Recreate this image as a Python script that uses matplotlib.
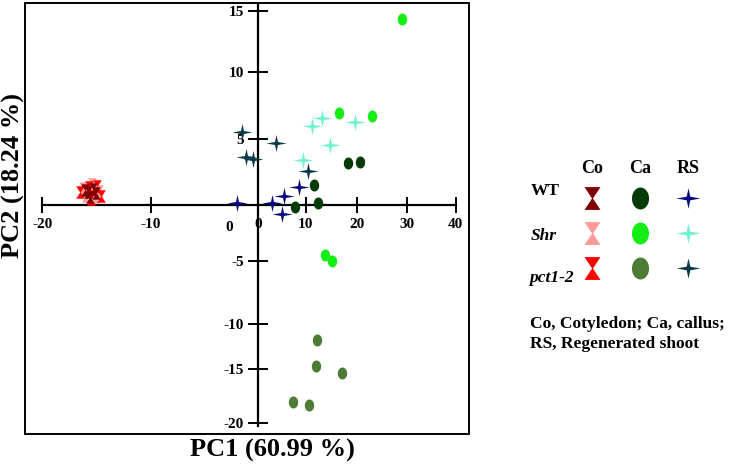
#!/usr/bin/env python3
"""
PCA score plot - PC1 vs PC2 (Co / Ca / RS x WT / Shr / pct1-2)
"""

import numpy as np
import matplotlib.pyplot as plt
from matplotlib.patches import Rectangle

plt.rcParams['font.family'] = ['Liberation Serif', 'DejaVu Serif']
plt.rcParams['font.weight'] = 'bold'

# ---- data (PC1, PC2) ----
wt_co_pc1 = [-15.80, -15.34, -15.61, -15.06, -16.07]
wt_co_pc2 = [0.98, 1.21, 0.61, 0.91, 1.14]
shr_co_pc1 = [-16.26, -15.43, -14.78, -15.98, -15.15]
shr_co_pc2 = [1.29, 1.59, 1.06, 0.68, 0.61]
pct_co_pc1 = [-16.53, -15.70, -14.97, -15.52, -14.60]
pct_co_pc2 = [0.98, 1.36, 1.44, 0.45, 0.68]

wt_ca_pc1 = [18.26, 20.54, 11.67, 7.76, 12.33]
wt_ca_pc2 = [3.20, 3.23, 1.52, -0.21, 0.13]
shr_ca_pc1 = [16.45, 22.9, 29.0, 13.74, 15.16]
shr_ca_pc2 = [6.92, 6.74, 14.34, -4.53, -5.06]
pct_ca_pc1 = [12.25, 12.05, 16.98, 7.40, 10.58]
pct_ca_pc2 = [-11.78, -14.67, -15.34, -18.08, -18.31]

wt_rs_pc1 = [-1.96, 2.94, 5.45, 5.03, 8.70]
wt_rs_pc2 = [0.13, 0.13, 0.68, -0.80, 1.39]
shr_rs_pc1 = [13.1, 11.16, 19.55, 14.7, 9.50]
shr_rs_pc2 = [6.54, 5.97, 6.29, 4.55, 3.41]
pct_rs_pc1 = [-1.52, 3.77, -1.12, -0.47, 10.5]
pct_rs_pc2 = [5.54, 4.66, 3.66, 3.46, 2.61]

tissues = ['Co', 'Ca', 'RS']
genotypes = ['WT', 'Shr', 'pct1-2']

x_ticks = [-20, -10, 0, 10, 20, 30, 40]
y_ticks = [-20, -15, -10, -5, 5, 10, 15]

# ---- axis geometry (uneven scales of the original figure, in pixels) ----
X_KNOT_VALS = [-20, -10, 0, 10, 20, 30, 40]
X_KNOT_PX = [42.3, 151, 258, 305.7, 357.3, 407.3, 455.7]
Y_KNOT_VALS = [-20, -15, -10, -5, 0, 5, 10, 15]
Y_KNOT_PX = [423, 369, 324.3, 260.7, 205, 139, 71.7, 10.7]

W, H = 736, 467


def make_scale(vals, px, sign):
    """区分線形スケール (forward, inverse)"""
    lo = (px[1] - px[0]) / (vals[1] - vals[0])
    hi = (px[-1] - px[-2]) / (vals[-1] - vals[-2])
    ev = [vals[0] - 100] + list(vals) + [vals[-1] + 100]
    ep = [px[0] - 100 * lo] + list(px) + [px[-1] + 100 * hi]
    ep = [sign * p for p in ep]

    def fwd(v):
        return np.interp(v, ev, ep)

    def inv(p):
        return np.interp(p, ep, ev)
    return fwd, inv


def px_rect(l, t, r, b):
    return [l / W, 1 - b / H, (r - l) / W, (b - t) / H]


# マーカー形状
HOURGLASS = [(-0.7, 1), (0.7, 1), (0.04, 0), (0.7, -1), (-0.7, -1), (-0.04, 0)]
_t = np.linspace(0, 2 * np.pi, 40)
ELLIPSE = list(zip(0.78 * np.cos(_t), np.sin(_t)))
STAR = [(0, 0.85), (0.15, 0.15), (1, 0), (0.15, -0.15),
        (0, -0.85), (-0.15, -0.15), (-1, 0), (-0.15, 0.15)]

colors = {
    ('WT', 'Co'): '#800000', ('Shr', 'Co'): '#ff9a9a', ('pct1-2', 'Co'): '#ff0000',
    ('WT', 'Ca'): '#063a06', ('Shr', 'Ca'): '#15ee15', ('pct1-2', 'Ca'): '#4d7c35',
    ('WT', 'RS'): '#0a0a80', ('Shr', 'RS'): '#6ff2cf', ('pct1-2', 'RS'): '#0a3a4a',
}
markers = {'Co': HOURGLASS, 'Ca': ELLIPSE, 'RS': STAR}
sizes = {'Co': 80, 'Ca': 75, 'RS': 210}
legend_sizes = {'Co': 270, 'Ca': 250, 'RS': 300}

groups = [
    ('Shr', 'Co', shr_co_pc1, shr_co_pc2),
    ('pct1-2', 'Co', pct_co_pc1, pct_co_pc2),
    ('WT', 'Co', wt_co_pc1, wt_co_pc2),
    ('WT', 'Ca', wt_ca_pc1, wt_ca_pc2),
    ('Shr', 'Ca', shr_ca_pc1, shr_ca_pc2),
    ('pct1-2', 'Ca', pct_ca_pc1, pct_ca_pc2),
    ('WT', 'RS', wt_rs_pc1, wt_rs_pc2),
    ('Shr', 'RS', shr_rs_pc1, shr_rs_pc2),
    ('pct1-2', 'RS', pct_rs_pc1, pct_rs_pc2),
]

fig = plt.figure(figsize=(W / 100, H / 100), dpi=100)
ax = fig.add_axes(px_rect(25, 3, 469, 434))

xf, xi = make_scale(X_KNOT_VALS, X_KNOT_PX, 1)
yf, yi = make_scale(Y_KNOT_VALS, Y_KNOT_PX, -1)
ax.set_xscale('function', functions=(xf, xi))
ax.set_yscale('function', functions=(yf, yi))
ax.set_xlim(xi(25), xi(469))
ax.set_ylim(yi(-434), yi(-3))

for geno, tis, xs, ys in groups:
    ax.scatter(xs, ys, marker=markers[tis], s=sizes[tis], color=colors[(geno, tis)],
               linewidths=0, zorder=3)

# 軸 (原点で交差)
for side in ['top', 'right']:
    ax.spines[side].set_visible(False)
ax.spines['left'].set_position(('data', 0))
ax.spines['bottom'].set_position(('data', 0))
ax.spines['left'].set_bounds(yi(-426), yi(-5))
ax.spines['bottom'].set_bounds(-20, 40)
for side in ['left', 'bottom']:
    ax.spines[side].set_linewidth(1.6)
ax.add_patch(Rectangle((0, 0), 1, 1, transform=ax.transAxes, fill=False,
                       lw=1.4, edgecolor='black', clip_on=False, zorder=5))

ax.set_xticks(x_ticks)
ax.set_xticklabels([str(v) for v in x_ticks])
ax.set_yticks(y_ticks)
ax.set_yticklabels([str(v) for v in y_ticks])
ax.minorticks_off()
ax.tick_params(axis='x', direction='inout', length=12, width=1.4, pad=3, labelsize=11)
ax.tick_params(axis='y', direction='inout', length=14, width=1.4, pad=3, labelsize=11)
for lab in ax.get_xticklabels() + ax.get_yticklabels():
    lab.set_fontweight('bold')
ax.annotate('0', xy=(0, 0), xytext=(-21, -16), textcoords='offset points',
            ha='center', va='center', fontsize=11, fontweight='bold')

fig.text(272 / W, 1 - 450 / H, 'PC1 (60.99 %)', ha='center', va='center',
         fontsize=19, fontweight='bold')
fig.text(13 / W, 1 - 175 / H, 'PC2 (18.24 %)', ha='center', va='center',
         fontsize=19, fontweight='bold', rotation=90)

# 凡例 (グリッド)
lax = fig.add_axes(px_rect(568, 180.5, 712, 285.5))
lax.set_xlim(-0.5, 2.5)
lax.set_ylim(2.5, -0.5)
lax.axis('off')
for r, geno in enumerate(genotypes):
    for c, tis in enumerate(tissues):
        lax.scatter([c], [r], marker=markers[tis], s=legend_sizes[tis],
                    color=colors[(geno, tis)], linewidths=0, clip_on=False)

for c, tis in enumerate(tissues):
    lax.text(c, -0.85, tis, ha='center', va='center', fontsize=13, fontweight='bold')
fig.text(531 / W, 1 - 191 / H, 'WT', ha='left', va='center', fontsize=12.5, fontweight='bold')
fig.text(531 / W, 1 - 236 / H, 'Shr', ha='left', va='center', fontsize=12.5,
         fontweight='bold', style='italic')
fig.text(529 / W, 1 - 278 / H, 'pct1-2', ha='left', va='center', fontsize=12.5,
         fontweight='bold', style='italic')
fig.text(530 / W, 1 - 334 / H, 'Co, Cotyledon; Ca, callus;\nRS, Regenerated shoot',
         ha='left', va='center', fontsize=12.5, fontweight='bold', linespacing=1.25)

plt.savefig('out.png', dpi=100)
